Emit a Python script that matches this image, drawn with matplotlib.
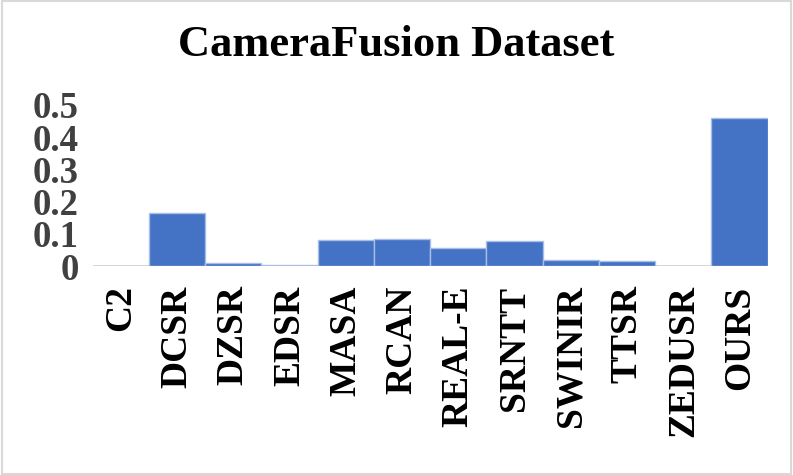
# CameraFusion Dataset bar chart (Excel-style)
import matplotlib.pyplot as plt
from matplotlib.patches import Rectangle

# data
methods = ['C2', 'DCSR', 'DZSR', 'EDSR', 'MASA', 'RCAN', 'REAL-E',
           'SRNTT', 'SWINIR', 'TTSR', 'ZEDUSR', 'OURS']
scores = [0.0, 0.165, 0.0085, 0.004, 0.0805, 0.085, 0.056,
          0.077, 0.018, 0.0146, 0.0, 0.46]
yticks = [0, 0.1, 0.2, 0.3, 0.4, 0.5]
ytick_labels = ['0', '0.1', '0.2', '0.3', '0.4', '0.5']

plt.rcParams['font.family'] = ['Liberation Serif', 'DejaVu Serif']
plt.rcParams['font.weight'] = 'bold'

fig = plt.figure(figsize=(7.93, 4.75), dpi=100)
ax = fig.add_axes([0.117, 0.44, 0.851, 0.339])

x = range(len(methods))
ax.bar(x, scores, width=1.0, color='#4472C4', edgecolor='#A9BEE6', linewidth=1)

# grey category axis line
ax.axhline(0, color='#D9D9D9', linewidth=2, zorder=0)

ax.set_xlim(-0.5, len(methods) - 0.5)
ax.set_ylim(0, 0.5)
ax.set_yticks(yticks)
ax.set_yticklabels(ytick_labels, fontsize=26.5, fontweight='bold', color='#404040')
ax.set_xticks(list(x))
ax.set_xticklabels(methods, rotation=90, fontsize=27, fontweight='bold', va='top')
ax.tick_params(axis='both', length=0)
ax.tick_params(axis='y', pad=10)
ax.tick_params(axis='x', pad=14)
for s in ax.spines.values():
    s.set_visible(False)

fig.text(0.5, 0.905, 'CameraFusion Dataset', ha='center', va='center',
         fontsize=32, fontweight='bold')

# light grey chart border
fig.patches.append(Rectangle((0.002, 0.003), 0.996, 0.994, transform=fig.transFigure,
                             fill=False, edgecolor='#D9D9D9', linewidth=1.5))

fig.savefig('out.png', dpi=100)
